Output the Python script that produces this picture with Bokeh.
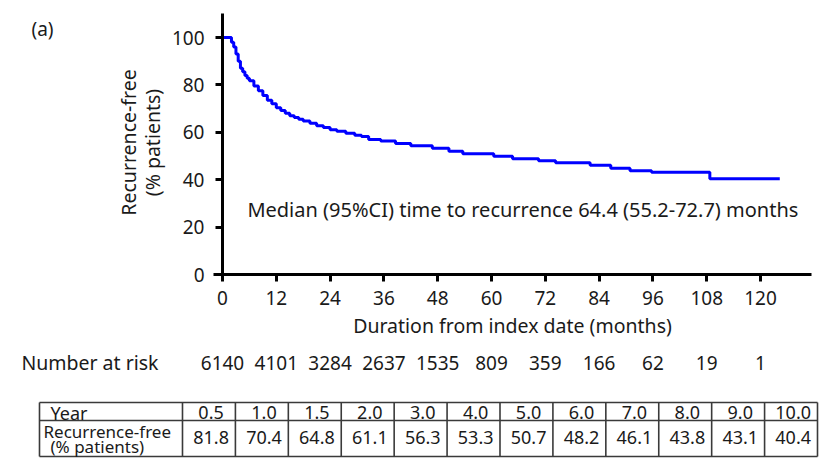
import math
from bokeh.plotting import figure
from bokeh.models import Range1d, Label, FixedTicker
from bokeh.core.properties import value
from bokeh.embed import file_html
from bokeh.resources import INLINE

# ---- data ----
months = [0, 2, 2.5, 3, 3.5, 4, 4.5, 5, 5.5, 6, 7, 8, 9, 10, 11, 12, 13, 14, 15, 16, 17, 18,
          19.5, 21, 22.5, 24, 25.5, 27.5, 29.5, 31, 32.6, 35.3, 38.6, 42, 46.8, 50.5, 53.6,
          60.5, 64.7, 70.5, 74.3, 82, 86.6, 90.9, 95.7, 108.7, 124.3]
recurrence_free = [100, 98, 96, 93, 90, 87, 85.5, 84, 82.8, 81.8, 79.5, 77.5, 75.5, 73.5, 72, 70.4,
                   69.2, 68, 67, 66.2, 65.5, 64.8, 63.8, 62.8, 62, 61.1, 60.4, 59.6, 58.8, 58.2,
                   57.0, 56.3, 55.3, 54.3, 53.3, 52.0, 50.9, 49.9, 48.8, 48.0, 47.1, 46.1, 44.8,
                   43.8, 43.1, 40.4, 40.4]

x_ticks = [0, 12, 24, 36, 48, 60, 72, 84, 96, 108, 120]
y_ticks = [0, 20, 40, 60, 80, 100]

at_risk_months = [0, 12, 24, 36, 48, 60, 72, 84, 96, 108, 120]
at_risk = [6140, 4101, 3284, 2637, 1535, 809, 359, 166, 62, 19, 1]

table_years = ["0.5", "1.0", "1.5", "2.0", "3.0", "4.0", "5.0", "6.0", "7.0", "8.0", "9.0", "10.0"]
table_rf = [81.8, 70.4, 64.8, 61.1, 56.3, 53.3, 50.7, 48.2, 46.1, 43.8, 43.1, 40.4]

median_text = "Median (95%CI) time to recurrence 64.4 (55.2-72.7) months"

FONT = "Noto Sans"
TXT = "#1a1a1a"

# ---- layout constants (pixels) ----
W, H = 819, 460
X0_PX, PX_PER_MONTH = 222, 538 / 120      # month 0 position, scale
Y0_PX, PX_PER_PCT = 274, 2.37             # 0 % position, scale

def mx(px):
    return (px - X0_PX) / PX_PER_MONTH

def my(px):
    return (Y0_PX - px) / PX_PER_PCT

p = figure(width=W, height=H,
           x_range=Range1d(mx(0), mx(W)), y_range=Range1d(my(H), my(0)),
           output_backend="svg", toolbar_location=None, min_border=0)
p.outline_line_color = None
p.xgrid.visible = False
p.ygrid.visible = False

p.step(months, recurrence_free, mode="after", line_color="#0000ff", line_width=3)

for ax in (p.xaxis[0], p.yaxis[0]):
    ax.fixed_location = 0
    ax.axis_line_width = 3
    ax.axis_line_color = "black"
    ax.major_tick_line_width = 3
    ax.major_tick_line_color = "black"
    ax.major_tick_out = 7
    ax.major_tick_in = 0
    ax.minor_tick_line_color = None
    ax.major_label_text_font = FONT
    ax.major_label_text_font_size = "19px"
    ax.major_label_text_color = TXT
    ax.axis_label_text_font = FONT
    ax.axis_label_text_font_size = "19.5px"
    ax.axis_label_text_font_style = "normal"
    ax.axis_label_text_color = TXT

p.xaxis.ticker = FixedTicker(ticks=x_ticks)
p.yaxis.ticker = FixedTicker(ticks=y_ticks)
p.xaxis.bounds = (-2, mx(811))
p.yaxis.bounds = (0, 110)
p.xaxis.major_label_standoff = 9
p.yaxis.major_label_standoff = 11
p.xaxis.axis_label = "Duration from index date (months)"
p.xaxis.axis_label_standoff = 4

# y axis title as two rotated lines
for txt, xpx in (("Recurrence-free", 128), ("(% patients)", 152)):
    p.add_layout(Label(x=mx(xpx), y=my(142), text=txt, angle=math.pi / 2,
                       text_align="center", text_baseline="middle",
                       text_font=FONT, text_font_size="19.5px", text_color=TXT))

p.add_layout(Label(x=67, y=27.4, text=median_text, text_align="center", text_baseline="middle",
                   text_font=FONT, text_font_size="20px", text_color=TXT))
p.add_layout(Label(x=mx(42), y=my(28), text="(a)", text_align="center", text_baseline="middle",
                   text_font=FONT, text_font_size="19px", text_color=TXT))

# ---- number at risk ----
risk_y = my(362)
p.text(x=at_risk_months, y=[risk_y] * len(at_risk), text=[str(v) for v in at_risk],
       text_align="center", text_baseline="middle", text_font=value(FONT),
       text_font_size="19px", text_color=TXT)
p.text(x=[mx(158)], y=[risk_y], text=["Number at risk"], text_align="right", text_baseline="middle",
       text_font=value(FONT), text_font_size="19.5px", text_color=TXT)

# ---- table (column units horizontally, pixel rows vertically) ----
COL = 52.92
first_w = 143 / COL
p.extra_x_ranges = {"tbl": Range1d(-first_w - 39 / COL, 12 + (W - 817) / COL)}
p.extra_y_ranges = {"px": Range1d(H, 0)}
n = len(table_years)
y_top, y_mid, y_bot = 402, 420, 456
p.segment(x0=[-first_w] * 3, x1=[n] * 3, y0=[y_top, y_mid, y_bot], y1=[y_top, y_mid, y_bot],
          x_range_name="tbl", y_range_name="px", line_color="#3a3a3a", line_width=1.6)
vx = [-first_w] + list(range(n + 1))
p.segment(x0=vx, x1=vx, y0=[y_top] * len(vx), y1=[y_bot] * len(vx),
          x_range_name="tbl", y_range_name="px", line_color="#3a3a3a", line_width=1.6)

cx = [i + 0.54 for i in range(n)]
p.text(x=cx, y=[412] * n, text=table_years, text_align="center",
       text_baseline="middle", text_font=value(FONT), text_font_size="18px",
       text_color=TXT, x_range_name="tbl", y_range_name="px")
p.text(x=cx, y=[437] * n, text=[f"{v:.1f}" for v in table_rf], text_align="center",
       text_baseline="middle", text_font=value(FONT), text_font_size="18px",
       text_color=TXT, x_range_name="tbl", y_range_name="px")
p.text(x=[-first_w + 11 / COL], y=[412], text=["Year"], text_align="left",
       text_baseline="middle", text_font=value(FONT), text_font_size="18px",
       text_color=TXT, x_range_name="tbl", y_range_name="px")
p.text(x=[-first_w + 4 / COL, -first_w + 11 / COL], y=[431, 446],
       text=["Recurrence-free", "(% patients)"], text_align="left", text_baseline="middle",
       text_font=value(FONT), text_font_size="17px", text_color=TXT,
       x_range_name="tbl", y_range_name="px")

open("out.html", "w").write(file_html(p, INLINE))
